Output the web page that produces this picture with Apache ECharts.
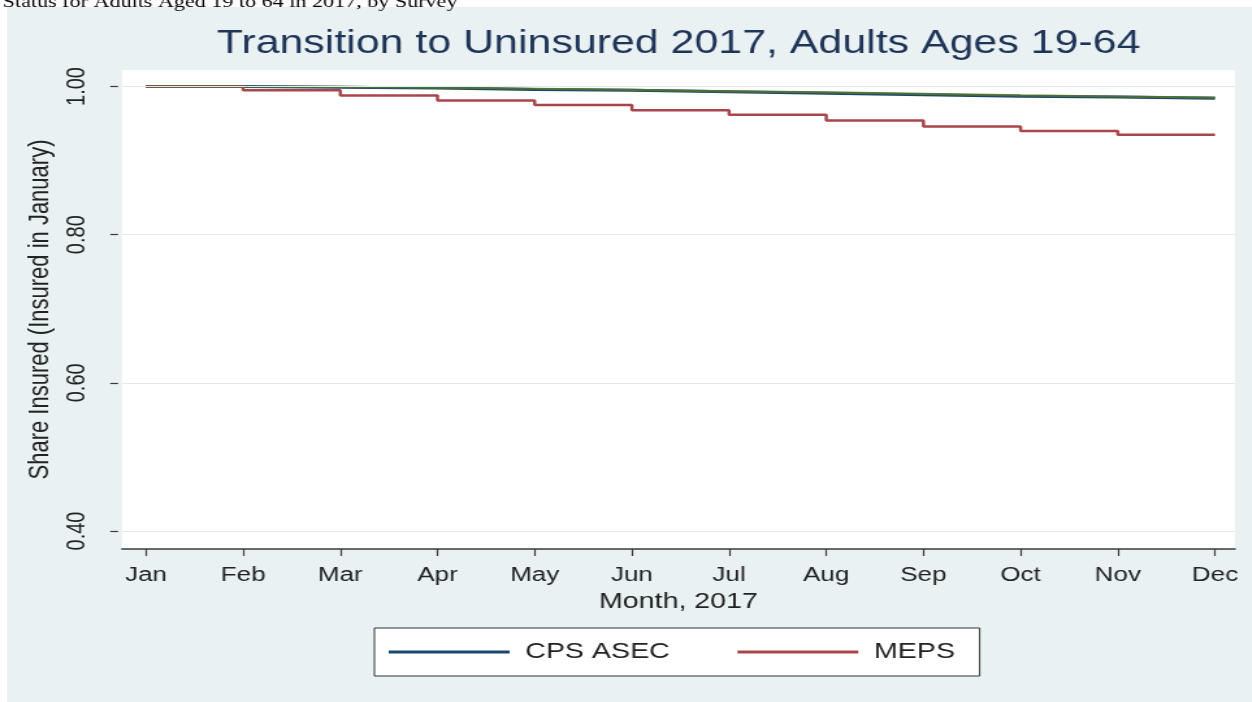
<!DOCTYPE html>
<html>
<head>
<meta charset="utf-8">
<script src="https://cdn.jsdelivr.net/npm/echarts@6/dist/echarts.min.js"></script>
<style>
  html, body { margin: 0; padding: 0; background: #ffffff; overflow: hidden; }
  #panel { position: absolute; left: 7px; top: 7px; width: 1245px; height: 695px; background: #e9f1f3; }
  /* the graph is drawn at a narrower width and widened horizontally */
  #chart { position: absolute; left: 0; top: 0; width: 963px; height: 702px;
           transform: scaleX(1.3); transform-origin: 0 0; }
</style>
</head>
<body>
<div id="panel"></div>
<div id="chart"></div>
<script>
// Months of 2017 and the share of January-insured adults still insured
const months = ['Jan', 'Feb', 'Mar', 'Apr', 'May', 'Jun', 'Jul', 'Aug', 'Sep', 'Oct', 'Nov', 'Dec'];
const monthIndex = [1, 2, 3, 4, 5, 6, 7, 8, 9, 10, 11, 12];
const cpsAsec = [1.000, 0.999, 0.998, 0.996, 0.995, 0.993, 0.991, 0.989, 0.987, 0.986, 0.984, 0.984];
const cpsAsecAlt = [1.000, 0.9995, 0.9985, 0.997, 0.9955, 0.9935, 0.992, 0.990, 0.988, 0.9865, 0.985, 0.985];
const meps = [1.000, 0.995, 0.988, 0.981, 0.975, 0.968, 0.962, 0.954, 0.946, 0.940, 0.935, 0.935];
const yTicks = [0.40, 0.60, 0.80, 1.00];

const pairs = (vals) => monthIndex.map((m, i) => [m, vals[i]]);

const FONT = 'Liberation Sans, Arial, Helvetica, sans-serif';
const chart = echarts.init(document.getElementById('chart'), null, { renderer: 'canvas' });

chart.setOption({
  backgroundColor: 'transparent',
  animation: false,
  title: {
    text: 'Transition to Uninsured 2017, Adults Ages 19-64',
    left: 522, top: 27, textAlign: 'center', padding: 0,
    textStyle: { fontFamily: FONT, fontSize: 33, fontWeight: 'normal', color: '#1f3558' }
  },
  graphic: [{
    type: 'text', left: 2, top: -6, z: 100,
    style: { text: 'Status for Adults Aged 19 to 64 in 2017, by Survey',
             fontFamily: 'Liberation Serif, Times New Roman, serif', fontSize: 17, fill: '#000' }
  }],
  legend: {
    data: ['CPS ASEC', 'MEPS'],
    left: 288, top: 628,
    orient: 'horizontal',
    padding: [13, 19, 13, 11],
    itemGap: 52,
    itemWidth: 93, itemHeight: 3,
    icon: 'rect',
    backgroundColor: '#ffffff',
    borderColor: '#333333', borderWidth: 1,
    textStyle: { fontFamily: FONT, fontSize: 22, color: '#222', padding: [0, 0, 0, 7], lineHeight: 22 }
  },
  grid: {
    left: 93.8, right: 13, top: 70, bottom: 702 - 549,
    show: true, backgroundColor: '#ffffff', borderWidth: 0
  },
  xAxis: {
    type: 'value', min: 0.753, max: 12.206,
    name: 'Month, 2017', nameLocation: 'middle', nameGap: 42,
    nameTextStyle: { fontFamily: FONT, fontSize: 22, color: '#222' },
    axisLine: { show: true, lineStyle: { color: '#3a3a3a', width: 1.5 } },
    axisTick: { show: true, customValues: monthIndex, length: 7, lineStyle: { color: '#3a3a3a', width: 1.2 } },
    axisLabel: { customValues: monthIndex, margin: 16, fontFamily: FONT, fontSize: 20, color: '#222',
                 formatter: (v) => months[Math.round(v) - 1] },
    splitLine: { show: false }
  },
  yAxis: {
    type: 'value', min: 0.3757, max: 1.0223, offset: 3,
    name: 'Share Insured (Insured in January)', nameLocation: 'middle', nameRotate: 90, nameGap: 45,
    nameTextStyle: { fontFamily: FONT, fontSize: 22, color: '#222' },
    axisLine: { show: false },
    axisTick: { show: true, customValues: yTicks, length: 6, lineStyle: { color: '#3a3a3a', width: 1.2 } },
    axisLabel: { customValues: yTicks, rotate: 90, margin: 21, fontFamily: FONT, fontSize: 20, color: '#222',
                 formatter: (v) => v.toFixed(2) },
    splitLine: { show: false }
  },
  series: [
    {
      name: 'gridlines', type: 'line', data: [], z: 1, silent: true,
      markLine: {
        silent: true, symbol: ['none', 'none'], label: { show: false },
        lineStyle: { color: '#e3eaec', width: 1.2, type: 'solid' },
        data: yTicks.map(v => ({ yAxis: v }))
      }
    },
    {
      name: 'CPS ASEC', type: 'line', step: 'end', showSymbol: false, symbol: 'none', z: 3,
      data: pairs(cpsAsec),
      lineStyle: { color: '#1a476f', width: 3 }, itemStyle: { color: '#1a476f' }
    },
    {
      name: 'CPS ASEC, alt.', type: 'line', step: 'end', showSymbol: false, symbol: 'none', z: 4,
      data: pairs(cpsAsecAlt),
      lineStyle: { color: '#55752f', width: 2.2, opacity: 0.85 }, itemStyle: { color: '#55752f' }
    },
    {
      name: 'MEPS', type: 'line', step: 'end', showSymbol: false, symbol: 'none', z: 3,
      data: pairs(meps),
      lineStyle: { color: '#a8464c', width: 2.5 }, itemStyle: { color: '#a8464c' }
    }
  ]
});
</script>
</body>
</html>
